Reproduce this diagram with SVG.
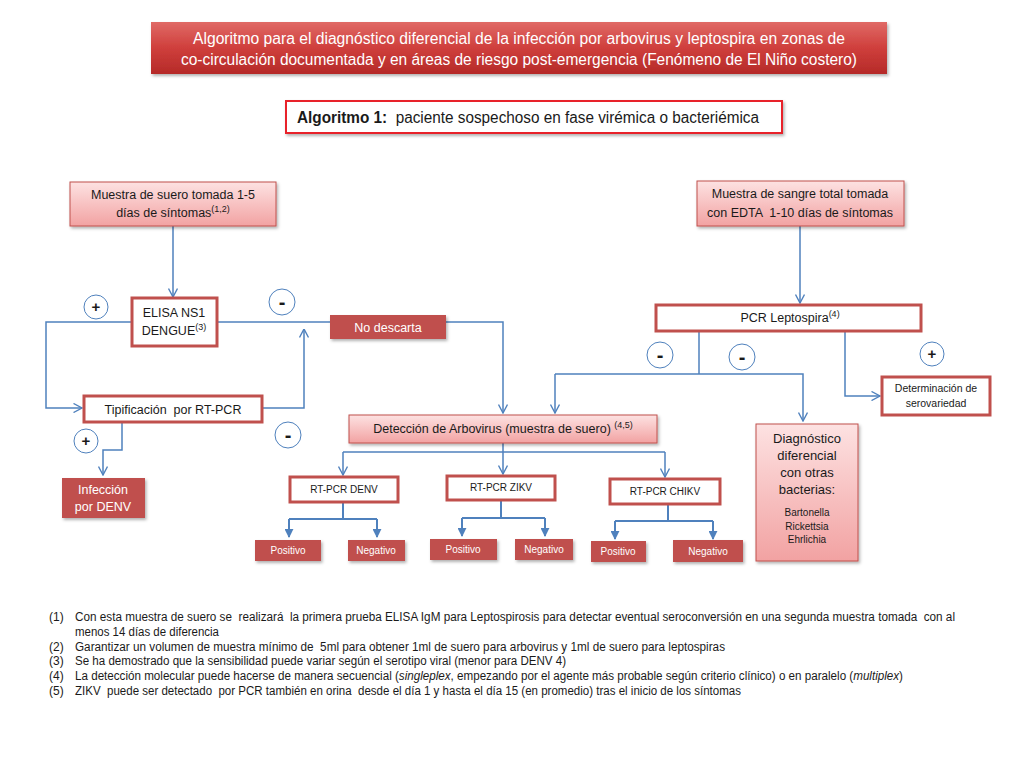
<svg xmlns="http://www.w3.org/2000/svg" width="1024" height="768" viewBox="0 0 1024 768">
<defs>
<style>
text{font-family:"Liberation Sans","Noto Sans",sans-serif;}
.c{text-anchor:middle;}
.w{fill:#ffffff;}
.k{fill:#1a1a1a;}
.ln{fill:none;stroke:#4f81bd;stroke-width:1.5;}
.ln2{fill:none;stroke:#4f81bd;stroke-width:2;}
.wb{fill:#ffffff;stroke:#c0504d;stroke-width:3;}
.pk{fill:url(#pink);stroke:#c0504d;stroke-width:1;}
.dr{fill:#c0504d;}
.cir{fill:#ffffff;stroke:#4f81bd;stroke-width:1;}
.sg{font-weight:bold;font-size:15px;text-anchor:middle;fill:#1a1a1a;}
.mn{font-weight:bold;font-size:20px;text-anchor:middle;fill:#1a1a1a;}
.fn{font-size:12px;fill:#1a1a1a;}
</style>
<linearGradient id="pink" x1="0" y1="0" x2="0" y2="1">
<stop offset="0" stop-color="#fde2e2"/>
<stop offset="1" stop-color="#f2a2a2"/>
</linearGradient>
<linearGradient id="titleg" x1="0" y1="0" x2="0" y2="1">
<stop offset="0" stop-color="#e06a66"/>
<stop offset="0.5" stop-color="#cf3f3c"/>
<stop offset="1" stop-color="#b52a28"/>
</linearGradient>
<filter id="sh" x="-10%" y="-20%" width="125%" height="150%">
<feDropShadow dx="1.5" dy="2" stdDeviation="1.5" flood-color="#000" flood-opacity="0.3"/>
</filter>
<marker id="open" viewBox="0 0 10 10" refX="9.5" refY="5" markerWidth="10" markerHeight="10" markerUnits="userSpaceOnUse" orient="auto">
<path d="M1,0.5 L9.5,5 L1,9.5" fill="none" stroke="#4f81bd" stroke-width="1.4"/>
</marker>
<marker id="fill" viewBox="0 0 10 10" refX="9" refY="5" markerWidth="9" markerHeight="9" markerUnits="userSpaceOnUse" orient="auto">
<path d="M0,0 L10,5 L0,10 z" fill="#4f81bd"/>
</marker>
</defs>
<rect width="1024" height="768" fill="#ffffff"/>

<g id="title">
<rect x="151" y="22" width="736" height="52" fill="url(#titleg)" filter="url(#sh)"/>
<text class="c w" x="519" y="44" font-size="16" textLength="652" lengthAdjust="spacingAndGlyphs">Algoritmo para el diagnóstico diferencial de la infección por arbovirus y leptospira en zonas de</text>
<text class="c w" x="519" y="65" font-size="16" textLength="676" lengthAdjust="spacingAndGlyphs">co-circulación documentada y en áreas de riesgo post-emergencia (Fenómeno de El Niño costero)</text>
</g>

<g id="algoritmo1">
<rect x="286" y="101" width="496" height="32" fill="#ffffff" stroke="#e8202a" stroke-width="2" filter="url(#sh)"/>
<text class="k" x="297" y="123" font-size="16" textLength="462" lengthAdjust="spacingAndGlyphs" xml:space="preserve"><tspan font-weight="bold">Algoritmo 1:</tspan>  paciente sospechoso en fase virémica o bacteriémica</text>
</g>

<g id="connectors">
<path class="ln" d="M173,226 V297" marker-end="url(#open)"/>
<path class="ln" d="M132,322 H46 V408 H82" marker-end="url(#open)"/>
<path class="ln" d="M217,322 H330"/>
<path class="ln" d="M446,322 H503 V413" marker-end="url(#open)"/>
<path class="ln" d="M262,408 H304 V329" marker-end="url(#open)"/>
<path class="ln" d="M122,422 V450 H103 V475" marker-end="url(#open)"/>
<path class="ln" d="M800,226 V303" marker-end="url(#open)"/>
<path class="ln" d="M699,331 V374"/>
<path class="ln" d="M555,374 H803 V421" marker-end="url(#open)"/>
<path class="ln" d="M555,374 V413" marker-end="url(#open)"/>
<path class="ln" d="M845,331 V396 H880" marker-end="url(#open)"/>
<path class="ln" d="M503,443 V452"/>
<path class="ln" d="M343,452 H665"/>
<path class="ln" d="M343,452 V475" marker-end="url(#open)"/>
<path class="ln" d="M503,452 V474" marker-end="url(#open)"/>
<path class="ln" d="M665,452 V477" marker-end="url(#open)"/>
<path class="ln2" d="M343,502 V519 M289,519 H377"/>
<path class="ln2" d="M289,519 V537" marker-end="url(#fill)"/>
<path class="ln2" d="M377,519 V537" marker-end="url(#fill)"/>
<path class="ln2" d="M501,500 V518 M462,518 H545"/>
<path class="ln2" d="M462,518 V536" marker-end="url(#fill)"/>
<path class="ln2" d="M545,518 V536" marker-end="url(#fill)"/>
<path class="ln2" d="M668,504 V521 M615,521 H713"/>
<path class="ln2" d="M615,521 V539" marker-end="url(#fill)"/>
<path class="ln2" d="M713,521 V539" marker-end="url(#fill)"/>
</g>

<g id="signs">
<circle class="cir" cx="96" cy="307" r="12"/><text class="sg" x="96" y="312">+</text>
<circle class="cir" cx="282" cy="302" r="13"/><text class="mn" x="282" y="309">-</text>
<circle class="cir" cx="288" cy="435" r="13"/><text class="mn" x="288" y="442">-</text>
<circle class="cir" cx="86" cy="441" r="12"/><text class="sg" x="86" y="446">+</text>
<circle class="cir" cx="660" cy="355" r="13"/><text class="mn" x="660" y="362">-</text>
<circle class="cir" cx="742" cy="357" r="13"/><text class="mn" x="742" y="364">-</text>
<circle class="cir" cx="932" cy="354" r="12"/><text class="sg" x="932" y="359">+</text>
</g>

<g id="muestra-suero">
<rect class="pk" x="70" y="182" width="206" height="44" filter="url(#sh)"/>
<text class="c k" x="173" y="199" font-size="12.5">Muestra de suero tomada 1-5</text>
<text class="c k" x="173" y="217" font-size="12.5">días de síntomas<tspan font-size="9" dy="-5">(1,2)</tspan></text>
</g>

<g id="elisa">
<rect class="wb" x="132" y="298" width="85" height="48"/>
<text class="c k" x="174" y="317" font-size="12.5">ELISA NS1</text>
<text class="c k" x="174" y="335" font-size="12.5">DENGUE<tspan font-size="9" dy="-5">(3)</tspan></text>
</g>

<g id="no-descarta">
<rect class="dr" x="330" y="315" width="116" height="24" filter="url(#sh)"/>
<text class="c w" x="388" y="332" font-size="12.5">No descarta</text>
</g>

<g id="tipificacion">
<rect class="wb" x="84" y="396" width="178" height="26"/>
<text class="c k" x="173" y="414" font-size="12.5" xml:space="preserve">Tipificación  por RT-PCR</text>
</g>

<g id="infeccion-denv">
<rect class="dr" x="62" y="478" width="83" height="40" filter="url(#sh)"/>
<text class="c w" x="103" y="494" font-size="12.5">Infección</text>
<text class="c w" x="103" y="511" font-size="12.5">por DENV</text>
</g>

<g id="muestra-sangre">
<rect class="pk" x="697" y="181" width="207" height="45" filter="url(#sh)"/>
<text class="c k" x="800" y="198" font-size="12.5">Muestra de sangre total tomada</text>
<text class="c k" x="800" y="217" font-size="12.5" xml:space="preserve">con EDTA  1-10 días de síntomas</text>
</g>

<g id="pcr-leptospira">
<rect class="wb" x="656" y="305" width="265" height="26"/>
<text class="c k" x="790" y="322" font-size="12.5">PCR Leptospira<tspan font-size="9" dy="-5">(4)</tspan></text>
</g>

<g id="determinacion">
<rect class="wb" x="882" y="377" width="108" height="38"/>
<text class="c k" x="936" y="392" font-size="10.5">Determinación de</text>
<text class="c k" x="936" y="407" font-size="10.5">serovariedad</text>
</g>

<g id="deteccion">
<rect class="pk" x="349" y="415" width="308" height="28" filter="url(#sh)"/>
<text class="c k" x="503" y="433" font-size="12.5">Detección de Arbovirus (muestra de suero) <tspan font-size="9" dy="-5">(4,5)</tspan></text>
</g>

<g id="diagnostico">
<rect class="pk" x="756" y="424" width="102" height="137" filter="url(#sh)"/>
<text class="c k" x="807" y="443" font-size="13">Diagnóstico</text>
<text class="c k" x="807" y="460" font-size="13">diferencial</text>
<text class="c k" x="807" y="477" font-size="13">con otras</text>
<text class="c k" x="807" y="494" font-size="13">bacterias:</text>
<text class="c k" x="807" y="516" font-size="10">Bartonella</text>
<text class="c k" x="807" y="530" font-size="10">Rickettsia</text>
<text class="c k" x="807" y="543" font-size="10">Ehrlichia</text>
</g>

<g id="rtpcr-denv">
<rect class="wb" x="290" y="477" width="108" height="25"/>
<text class="c k" x="344" y="493" font-size="10">RT-PCR DENV</text>
</g>
<g id="rtpcr-zikv">
<rect class="wb" x="447" y="476" width="108" height="24"/>
<text class="c k" x="501" y="491" font-size="10">RT-PCR ZIKV</text>
</g>
<g id="rtpcr-chikv">
<rect class="wb" x="610" y="479" width="110" height="25"/>
<text class="c k" x="665" y="495" font-size="10">RT-PCR CHIKV</text>
</g>

<g id="denv-positivo"><rect class="dr" x="255" y="540" width="66" height="21" filter="url(#sh)"/><text class="c w" x="288" y="554" font-size="10">Positivo</text></g>
<g id="denv-negativo"><rect class="dr" x="348" y="540" width="57" height="21" filter="url(#sh)"/><text class="c w" x="376" y="554" font-size="10">Negativo</text></g>
<g id="zikv-positivo"><rect class="dr" x="430" y="539" width="67" height="21" filter="url(#sh)"/><text class="c w" x="463" y="553" font-size="10">Positivo</text></g>
<g id="zikv-negativo"><rect class="dr" x="515" y="539" width="58" height="21" filter="url(#sh)"/><text class="c w" x="544" y="553" font-size="10">Negativo</text></g>
<g id="chikv-positivo"><rect class="dr" x="591" y="541" width="55" height="21" filter="url(#sh)"/><text class="c w" x="618" y="555" font-size="10">Positivo</text></g>
<g id="chikv-negativo"><rect class="dr" x="673" y="540" width="70" height="22" filter="url(#sh)"/><text class="c w" x="708" y="555" font-size="10">Negativo</text></g>

<g id="footnotes">
<text class="fn" x="49" y="621">(1)</text>
<text class="fn" x="75" y="621" textLength="880" lengthAdjust="spacingAndGlyphs" xml:space="preserve">Con esta muestra de suero se  realizará  la primera prueba ELISA IgM para Leptospirosis para detectar eventual seroconversión en una segunda muestra tomada  con al</text>
<text class="fn" x="75" y="636" textLength="144" lengthAdjust="spacingAndGlyphs">menos 14 días de diferencia</text>
<text class="fn" x="49" y="651">(2)</text>
<text class="fn" x="75" y="651" textLength="650" lengthAdjust="spacingAndGlyphs" xml:space="preserve">Garantizar un volumen de muestra mínimo de  5ml para obtener 1ml de suero para arbovirus y 1ml de suero para leptospiras</text>
<text class="fn" x="49" y="665">(3)</text>
<text class="fn" x="75" y="665" textLength="491" lengthAdjust="spacingAndGlyphs">Se ha demostrado que la sensibilidad puede variar según el serotipo viral (menor para DENV 4)</text>
<text class="fn" x="49" y="680">(4)</text>
<text class="fn" x="75" y="680" textLength="828" lengthAdjust="spacingAndGlyphs">La detección molecular puede hacerse de manera secuencial (<tspan font-style="italic">singleplex</tspan>, empezando por el agente más probable según criterio clínico) o en paralelo (<tspan font-style="italic">multiplex</tspan>)</text>
<text class="fn" x="49" y="695">(5)</text>
<text class="fn" x="75" y="695" textLength="666" lengthAdjust="spacingAndGlyphs" xml:space="preserve">ZIKV  puede ser detectado  por PCR también en orina  desde el día 1 y hasta el día 15 (en promedio) tras el inicio de los síntomas</text>
</g>
</svg>
